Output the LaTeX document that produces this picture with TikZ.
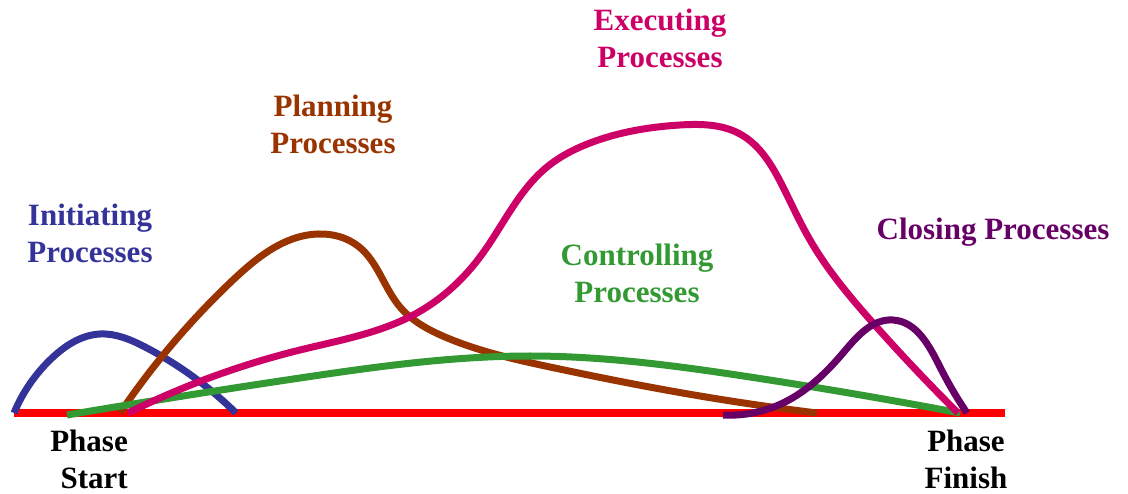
\documentclass[tikz,border=0pt]{standalone}
\usepackage{fontspec}
\setmainfont{Liberation Serif}
\usetikzlibrary{hobby}
\definecolor{cinit}{HTML}{333399}
\definecolor{cplan}{HTML}{993300}
\definecolor{cexec}{HTML}{CC0066}
\definecolor{cctrl}{HTML}{339933}
\definecolor{cclose}{HTML}{660066}
\definecolor{cbase}{HTML}{FF0000}
\tikzset{
  curve/.style={line width=7pt, line cap=butt, line join=round, use Hobby shortcut},
  lbl/.style={font=\fontsize{31}{37}\selectfont\bfseries, align=center, inner sep=0pt},
}
\begin{document}
\begin{tikzpicture}[x=1pt,y=-1pt]
\useasboundingbox (0,0) rectangle (1128,494);
% baseline
\coordinate (ps) at (14,413);
\coordinate (pf) at (1005,413);
\draw[cbase, line width=8pt] (ps) -- (pf);
% initiating
\draw[curve, cinit] (14,413) .. (52,358) .. (100,334) .. (145,347) .. (236,413);
% planning
\draw[curve, cplan] (120,413) .. (233,280) .. (318,234) .. (358,246) .. (400,307) .. (445,337) .. (550,367) .. (700,396) .. (817,413);
% controlling
\draw[curve, cctrl] (67,415) .. (300,378) .. (530,356) .. (750,377) .. (960,413);
% executing
\draw[curve, cexec] (128,413) .. (300,350) .. (417,313) .. (480,257) .. (547,167) .. (590,143) .. (680,125) .. (740,134) .. (783,187) .. (810,240) .. (873,323) .. (958,413);
% closing
\draw[curve, cclose] (723,415) .. (783,403) .. (843,353) .. (893,320) .. (940,367) .. (967,413);
% labels
\node[lbl, text=cinit] (init) at (90,233.5) {Initiating\\Processes};
\node[lbl, text=cplan] (plan) at (333,124) {Planning\\Processes};
\node[lbl, text=cexec] (exec) at (660,38.5) {Executing\\Processes};
\node[lbl, text=cctrl] (ctrl) at (637,273.5) {Controlling\\Processes};
\node[lbl, text=cclose] (close) at (993,232) {Closing Processes};
\node[lbl, align=right, anchor=east] (start) at (128,459) {Phase\\Start};
\node[lbl] (finish) at (966,459) {Phase\\Finish};
\end{tikzpicture}
\end{document}
